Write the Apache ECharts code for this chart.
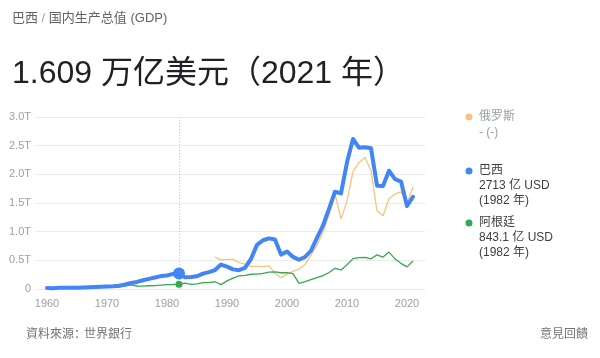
<!DOCTYPE html>
<html><head><meta charset="utf-8">
<script src="https://cdn.jsdelivr.net/npm/echarts@6/dist/echarts.min.js"></script>
<style>html,body{margin:0;padding:0;background:#fff;}#c{width:600px;height:358px;}</style>
</head><body><div id="c"></div>
<script>
// GDP, billions of current USD
const brazilYears = [1960,1961,1962,1963,1964,1965,1966,1967,1968,1969,1970,1971,1972,1973,1974,1975,1976,1977,1978,1979,1980,1981,1982,1983,1984,1985,1986,1987,1988,1989,1990,1991,1992,1993,1994,1995,1996,1997,1998,1999,2000,2001,2002,2003,2004,2005,2006,2007,2008,2009,2010,2011,2012,2013,2014,2015,2016,2017,2018,2019,2020,2021];
const brazilValues = [17.0,15.2,19.9,23.0,21.2,21.8,27.1,30.6,33.9,37.5,42.3,49.2,58.5,79.3,105.1,123.7,152.7,176.2,200.8,225.0,235.0,263.6,271.3,203.3,209.0,222.9,268.1,294.1,330.4,425.6,390.7,342.6,328.2,368.3,525.4,769.3,850.4,883.2,863.7,599.4,655.4,559.4,509.8,558.2,669.3,891.6,1107.6,1397.1,1695.8,1666.9,2208.8,2616.2,2465.2,2472.8,2456.0,1802.2,1795.7,2063.5,1916.9,1873.3,1448.6,1609.0];
const russiaYears = [1988,1989,1990,1991,1992,1993,1994,1995,1996,1997,1998,1999,2000,2001,2002,2003,2004,2005,2006,2007,2008,2009,2010,2011,2012,2013,2014,2015,2016,2017,2018,2019,2020,2021];
const russiaValues = [554.7,506.5,517.0,517.9,460.3,435.1,395.1,395.5,391.7,404.9,271.0,195.9,259.7,306.6,345.5,430.3,591.0,764.0,989.9,1299.7,1660.8,1222.6,1524.9,2045.9,2208.3,2292.5,2059.2,1363.5,1276.8,1574.2,1657.3,1693.1,1489.4,1778.8];
const argentinaYears = [1962,1963,1964,1965,1966,1967,1968,1969,1970,1971,1972,1973,1974,1975,1976,1977,1978,1979,1980,1981,1982,1983,1984,1985,1986,1987,1988,1989,1990,1991,1992,1993,1994,1995,1996,1997,1998,1999,2000,2001,2002,2003,2004,2005,2006,2007,2008,2009,2010,2011,2012,2013,2014,2015,2016,2017,2018,2019,2020,2021];
const argentinaValues = [24.5,18.3,25.6,28.3,28.6,24.3,26.4,31.3,31.6,33.3,34.7,52.5,72.4,52.4,51.2,56.8,58.1,69.3,77.0,78.7,84.3,104.0,79.1,88.4,110.9,111.1,126.2,76.6,141.4,189.7,228.8,236.7,257.4,258.0,272.2,292.9,299.0,283.5,284.2,268.7,97.7,127.6,164.7,198.7,232.6,287.5,361.6,333.0,423.6,530.2,546.0,552.0,526.3,594.7,557.5,643.6,524.8,447.8,385.5,487.2];
const xTickLabels = [1960,1970,1980,1990,2000,2010,2020];
const yTicks = [0,500,1000,1500,2000,2500,3000];
const highlightYear = 1982;
const seriesNames = ['俄罗斯','巴西','阿根廷'];
const legendValues = ['- (-)','2713 亿 USD','843.1 亿 USD'];
const legendYearText = '(1982 年)';
const headerCountry = '巴西';
const headerIndicator = '国内生产总值 (GDP)';
const titleText = '1.609 万亿美元（2021 年）';
const sourceLabel = '資料來源：';
const sourceName = '世界銀行';
const feedbackText = '意見回饋';

const pairs = (xs, ys) => xs.map((x, i) => [x, ys[i]]);
const FONT = '"Liberation Sans", Arial, "Noto Sans CJK SC", sans-serif';
const colors = {russia:'#f5c57a', brazil:'#4285f4', argentina:'#34a853'};

const chart = echarts.init(document.getElementById('c'), null, {renderer:'canvas'});
const textEl = (x, y, text, size, color, align) => ({
  type:'text', x:x, y:y, silent:true,
  style:{text:text, font: size + 'px ' + FONT, fill:color, textVerticalAlign:'middle', textAlign:align||'left'}
});
const dot = (x, y, color) => ({type:'circle', shape:{cx:x, cy:y, r:3.5}, style:{fill:color}, silent:true});

chart.setOption({
  animation:false,
  textStyle:{fontFamily:FONT},
  grid:{left:35, right:175, top:117, bottom:69},
  xAxis:{type:'value', min:1958, max:2023,
    axisLine:{show:false}, axisTick:{show:false}, splitLine:{show:false},
    axisLabel:{customValues:xTickLabels, color:'#9aa0a6', fontSize:11, margin:9,
      formatter: v => String(v)}},
  yAxis:{type:'value', min:yTicks[0], max:yTicks[yTicks.length-1], interval:500,
    axisLine:{show:false}, axisTick:{show:false},
    splitLine:{lineStyle:{color:'#ebebeb', width:1}},
    axisLabel:{color:'#9aa0a6', fontSize:11, margin:4,
      formatter: v => v === 0 ? '0' : (v/1000).toFixed(1) + 'T'}},
  series:[
    {name:seriesNames[0], type:'line', data:pairs(russiaYears, russiaValues), showSymbol:false,
      lineStyle:{color:colors.russia, width:1.3}, itemStyle:{color:colors.russia}, z:2},
    {name:seriesNames[2], type:'line', data:pairs(argentinaYears, argentinaValues),
      symbol:'circle', symbolSize: v => v[0] === highlightYear ? 7 : 0, showAllSymbol:true,
      lineStyle:{color:colors.argentina, width:1.3}, itemStyle:{color:colors.argentina}, z:3},
    {name:seriesNames[1], type:'line', data:pairs(brazilYears, brazilValues),
      symbol:'circle', symbolSize: v => v[0] === highlightYear ? 12 : 0, showAllSymbol:true,
      lineStyle:{color:colors.brazil, width:4, join:'round', cap:'round'}, itemStyle:{color:colors.brazil}, z:4,
      markLine:{silent:true, symbol:'none', label:{show:false},
        lineStyle:{color:'#c4c4c4', type:[1,2], width:1}, data:[{xAxis:highlightYear}], z:1}}
  ],
  graphic:[
    {type:'text', x:12, y:18, silent:true, style:{
      text:'{a|' + headerCountry + '}{s| / }{a|' + headerIndicator + '}',
      textVerticalAlign:'middle',
      rich:{a:{fontSize:13, fontFamily:FONT, fill:'#5f6368', color:'#5f6368'},
            s:{fontSize:13, fontFamily:FONT, fill:'#9aa0a6', color:'#9aa0a6'}}}},
    textEl(12, 74, titleText, 32, '#202124'),
    dot(469, 117, colors.russia),
    textEl(479, 117, seriesNames[0], 12, '#9aa0a6'),
    textEl(479, 133, legendValues[0], 12, '#9aa0a6'),
    dot(469, 171, colors.brazil),
    textEl(479, 171, seriesNames[1], 12, '#3c4043'),
    textEl(479, 186, legendValues[1], 12, '#3c4043'),
    textEl(479, 201, legendYearText, 12, '#3c4043'),
    dot(469, 223, colors.argentina),
    textEl(479, 223, seriesNames[2], 12, '#3c4043'),
    textEl(479, 238, legendValues[2], 12, '#3c4043'),
    textEl(479, 253, legendYearText, 12, '#3c4043'),
    textEl(26, 335, sourceLabel, 12, '#70757a'),
    textEl(84, 335, sourceName, 12, '#70757a'),
    textEl(588, 335, feedbackText, 12, '#70757a', 'right')
  ]
});
</script></body></html>
